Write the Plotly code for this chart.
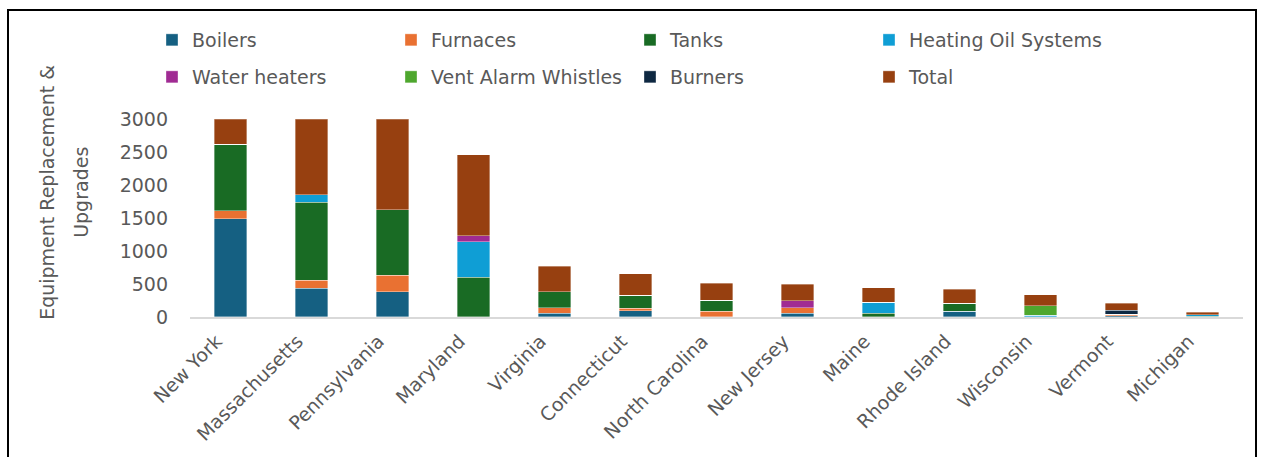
import plotly.graph_objects as go

# Equipment replacement & upgrades by state
states = ["New York", "Massachusetts", "Pennsylvania", "Maryland", "Virginia",
          "Connecticut", "North Carolina", "New Jersey", "Maine", "Rhode Island",
          "Wisconsin", "Vermont", "Michigan"]

boilers = [1490, 440, 380, 0, 60, 95, 0, 60, 0, 90, 0, 20, 0]
furnaces = [120, 120, 250, 0, 80, 40, 90, 80, 0, 0, 0, 20, 0]
tanks = [1015, 1180, 1000, 605, 245, 195, 165, 0, 55, 120, 0, 0, 10]
heating_oil_systems = [0, 115, 0, 535, 0, 0, 0, 0, 168, 0, 25, 0, 25]
water_heaters = [0, 0, 0, 90, 0, 0, 0, 108, 0, 0, 0, 0, 0]
vent_alarm_whistles = [0, 0, 0, 0, 0, 0, 0, 0, 0, 0, 143, 0, 0]
burners = [0, 0, 0, 0, 0, 0, 0, 0, 0, 0, 0, 65, 0]
total = [2625, 1855, 1630, 1230, 385, 330, 255, 248, 223, 210, 168, 105, 35]

y_ticks = [0, 500, 1000, 1500, 2000, 2500, 3000]

series = [
    ("Boilers", boilers, "#156082", "legend"),
    ("Furnaces", furnaces, "#E97132", "legend"),
    ("Tanks", tanks, "#196B24", "legend"),
    ("Heating Oil Systems", heating_oil_systems, "#0F9ED5", "legend"),
    ("Water heaters", water_heaters, "#A02B93", "legend2"),
    ("Vent Alarm Whistles", vent_alarm_whistles, "#4EA72E", "legend2"),
    ("Burners", burners, "#0E2841", "legend2"),
    ("Total", total, "#974010", "legend2"),
]

W, H = 1263, 457
ML, MR, MT, MB = 190, 20, 118, 140
FONT = "DejaVu Sans"
GREY = "#595959"

fig = go.Figure()
for name, vals, color, leg in series:
    fig.add_trace(go.Bar(
        x=states, y=vals, name=name, legend=leg,
        marker=dict(color=color, line=dict(width=0.6, color="rgba(255,255,255,0.6)")),
    ))

legend_common = dict(
    orientation="h", xref="container", yref="container",
    xanchor="left", yanchor="middle", x=152 / W,
    entrywidth=194, entrywidthmode="pixels",
    font=dict(family=FONT, size=19, color=GREY),
    bgcolor="rgba(0,0,0,0)", traceorder="normal",
    itemclick=False, itemdoubleclick=False,
)

pw = W - ML - MR
ph = H - MT - MB


def px_to_paper_x(px):
    return (px - ML) / pw


def px_to_paper_y(py):
    return (H - MB - py) / ph


fig.update_layout(
    width=W, height=H,
    margin=dict(l=ML, r=MR, t=MT, b=MB),
    barmode="stack", bargap=0.6,
    plot_bgcolor="white", paper_bgcolor="white",
    font=dict(family=FONT, color=GREY),
    legend=dict(legend_common, y=1 - 40 / H),
    legend2=dict(legend_common, y=1 - 77 / H),
    xaxis=dict(
        tickangle=-45, tickfont=dict(size=19, color=GREY),
        showline=True, linecolor="#D9D9D9", linewidth=1.5,
        showgrid=False, ticks="",
        ticklabelshift=-14, ticklabelstandoff=4,
    ),
    yaxis=dict(
        range=[0, 3000], tickvals=y_ticks,
        tickfont=dict(size=19, color=GREY),
        showgrid=False, zeroline=False, showline=False, ticks="",
        ticklabelstandoff=21,
    ),
    annotations=[
        dict(text="Equipment Replacement &", textangle=-90,
             xref="paper", yref="paper",
             x=px_to_paper_x(47), y=px_to_paper_y(192),
             xanchor="center", yanchor="middle", showarrow=False,
             font=dict(family=FONT, size=19, color=GREY)),
        dict(text="Upgrades", textangle=-90,
             xref="paper", yref="paper",
             x=px_to_paper_x(81), y=px_to_paper_y(192),
             xanchor="center", yanchor="middle", showarrow=False,
             font=dict(family=FONT, size=19, color=GREY)),
    ],
    shapes=[
        dict(type="rect", xref="paper", yref="paper",
             x0=px_to_paper_x(8), x1=px_to_paper_x(1256),
             y0=px_to_paper_y(470), y1=px_to_paper_y(8),
             line=dict(color="black", width=2), fillcolor="rgba(0,0,0,0)",
             layer="above"),
    ],
)

fig.write_html("out.html")
